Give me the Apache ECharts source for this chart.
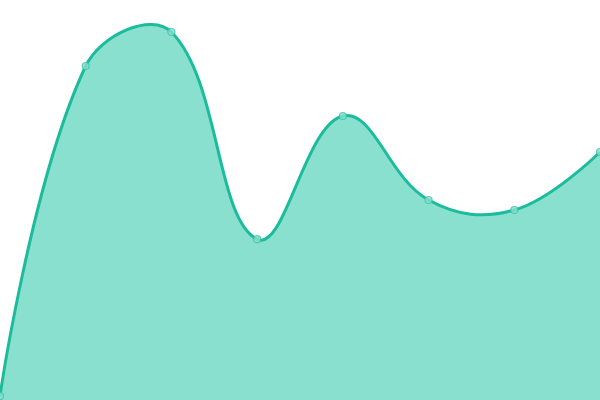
<!DOCTYPE html>
<html>
<head>
<meta charset="utf-8">
<script src="https://cdn.jsdelivr.net/npm/echarts@6/dist/echarts.min.js"></script>
<style>
html, body { margin: 0; padding: 0; background: #fff; }
#main { width: 600px; height: 400px; }
</style>
</head>
<body>
<div id="main"></div>
<script>
var categories = ['1', '2', '3', '4', '5', '6', '7', '8'];
var values = [1, 83.5, 92, 40.2, 71, 50, 47.5, 62];

var SMOOTH = 0.4;

// bezier path through the points, control points like the old echarts smooth line
function curvePath(pts) {
    var cps = [];
    for (var i = 0; i < pts.length; i++) {
        var p = pts[i];
        if (i === 0 || i === pts.length - 1) {
            cps.push([p, p]);
            continue;
        }
        var prev = pts[i - 1], next = pts[i + 1];
        var vx = (next[0] - prev[0]) * SMOOTH, vy = (next[1] - prev[1]) * SMOOTH;
        var d0 = Math.hypot(p[0] - prev[0], p[1] - prev[1]);
        var d1 = Math.hypot(next[0] - p[0], next[1] - p[1]);
        var r = d1 / (d0 + d1);
        cps.push([
            [p[0] - vx * (1 - r), p[1] - vy * (1 - r)],
            [p[0] + vx * r, p[1] + vy * r]
        ]);
    }
    var d = 'M' + pts[0][0] + ' ' + pts[0][1];
    for (var j = 1; j < pts.length; j++) {
        var a = cps[j - 1][1], b = cps[j][0];
        d += ' C' + a[0] + ' ' + a[1] + ' ' + b[0] + ' ' + b[1] + ' ' + pts[j][0] + ' ' + pts[j][1];
    }
    return d;
}

var mychart = echarts.init(document.getElementById('main'));
var option = {
    animation: false,
    grid: { left: 0, right: 0, top: 0, bottom: 0 },
    xAxis: {
        type: 'category',
        data: categories,
        boundaryGap: false,
        show: false
    },
    yAxis: {
        type: 'value',
        min: 0,
        max: 100,
        show: false
    },
    series: [{
        type: 'custom',
        data: values,
        z: 1,
        renderItem: function (params, api) {
            if (params.dataIndex !== 0) return;
            var pts = values.map(function (v, i) {
                return api.coord([i, v]);
            });
            var line = curvePath(pts);
            var end = api.coord([values.length - 1, 0]);
            var start = api.coord([0, 0]);
            var area = line + ' L' + end[0] + ' ' + end[1] + ' L' + start[0] + ' ' + start[1] + ' Z';
            return {
                type: 'group',
                children: [{
                    type: 'path',
                    shape: { pathData: area },
                    style: { fill: '#8ae0cf', stroke: null }
                }, {
                    type: 'path',
                    shape: { pathData: line },
                    style: { fill: null, stroke: '#1abc9c', lineWidth: 3 }
                }]
            };
        }
    }, {
        type: 'scatter',
        data: values,
        z: 3,
        symbol: 'circle',
        symbolSize: 7,
        itemStyle: { color: '#8ae0cf', borderColor: '#3cc6aa', borderWidth: 1.2 }
    }]
};
mychart.setOption(option);
</script>
</body>
</html>
